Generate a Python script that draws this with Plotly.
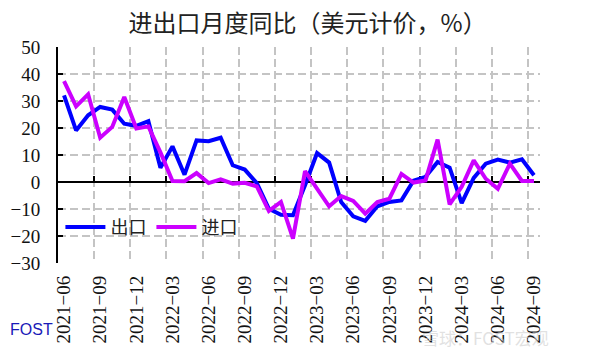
import plotly.graph_objects as go

months = ["2021-06", "2021-07", "2021-08", "2021-09", "2021-10", "2021-11", "2021-12",
          "2022-01", "2022-02", "2022-03", "2022-04", "2022-05", "2022-06", "2022-07",
          "2022-08", "2022-09", "2022-10", "2022-11", "2022-12",
          "2023-01", "2023-02", "2023-03", "2023-04", "2023-05", "2023-06", "2023-07",
          "2023-08", "2023-09", "2023-10", "2023-11", "2023-12",
          "2024-01", "2024-02", "2024-03", "2024-04", "2024-05", "2024-06", "2024-07",
          "2024-08", "2024-09"]

exports = [32.1, 19.1, 24.7, 27.8, 26.8, 21.6, 20.8,
           22.5, 5.3, 13.2, 2.7, 15.4, 15.1, 16.4,
           6.2, 4.6, -0.4, -9.9, -12.1,
           -12.3, -1.2, 10.7, 7.2, -7.4, -12.7, -14.4,
           -9.0, -7.4, -6.8, 0.5, 1.9,
           7.4, 5.3, -7.8, 1.5, 6.8, 8.3, 7.2,
           8.4, 2.5]

imports = [37.4, 28.0, 32.5, 16.4, 20.4, 31.5, 19.8,
           20.6, 11.0, 0.4, 0.3, 3.3, -0.4, 1.0,
           -0.6, -0.3, -1.6, -10.7, -7.4,
           -21.0, 4.0, -2.6, -9.0, -5.2, -7.0, -11.7,
           -7.4, -6.2, 3.0, -0.2, 0.6,
           15.7, -8.3, -1.8, 8.0, 1.2, -2.5, 6.8,
           0.4, 0.4]

series_names = ["出口", "进口"]
series_colors = ["#0000ff", "#cc00ff"]

idx = list(range(len(months)))
label_idx = idx[::3]
label_text = [months[i].replace("-", "\u2212") for i in label_idx]
boundaries = [i + 2.5 for i in label_idx[:-1]]

serif = "Liberation Serif, Times New Roman, serif"
cjk = "Noto Sans CJK SC"
grid_color = "#c4c4c4"
grid_dash = "8px,4px"

fig = go.Figure()
for name, vals, col in zip(series_names, [exports, imports], series_colors):
    fig.add_trace(go.Scatter(x=idx, y=vals, mode="lines", name=name,
                             line=dict(color=col, width=4)))
# helper trace so the zero-line tick axis is drawn
fig.add_trace(go.Scatter(x=idx, y=exports, xaxis="x2", mode="lines", opacity=0,
                         showlegend=False, hoverinfo="skip"))

fig.update_layout(
    width=583, height=347,
    margin=dict(l=50, r=51, t=39, b=92),
    paper_bgcolor="white", plot_bgcolor="white",
    title=dict(text="进出口月度同比（美元计价，%）", x=0.514, xanchor="center",
               y=0.955, yanchor="middle",
               font=dict(family=cjk, size=24, color="#222222")),
    showlegend=True,
    legend=dict(orientation="h", x=0.005, xanchor="left", y=0.165, yanchor="middle",
                bgcolor="rgba(0,0,0,0)", font=dict(family=cjk, size=18, color="#222222"),
                itemwidth=40, tracegroupgap=0),
    xaxis=dict(range=[-0.5, len(months) - 0.5], tickmode="array", tickvals=label_idx,
               ticktext=label_text, tickangle=-90, ticks="", showgrid=False,
               showline=False, zeroline=False, ticklabelstandoff=8, automargin=False,
               tickfont=dict(family=serif, size=19, color="#111111"),
               minor=dict(tickmode="array", tickvals=boundaries, showgrid=True,
                          gridcolor=grid_color, griddash=grid_dash, gridwidth=1.5,
                          ticks="")),
    xaxis2=dict(overlaying="x", anchor="free", position=0.375,
                range=[-0.5, len(months) - 0.5], tickmode="array", tickvals=boundaries,
                ticks="inside", ticklen=6, tickwidth=2, tickcolor="black",
                showticklabels=False, showgrid=False, showline=False, zeroline=False,
                layer="below traces"),
    yaxis=dict(range=[-30, 50], dtick=10, tick0=0, showgrid=True, gridcolor=grid_color,
               griddash=grid_dash, gridwidth=1.5, showline=True, linecolor="black",
               linewidth=2, ticks="inside", ticklen=5, tickwidth=2, tickcolor="black",
               zeroline=True, zerolinecolor="black", zerolinewidth=2,
               ticklabelstandoff=12, automargin=False,
               tickfont=dict(family=serif, size=19, color="#111111")),
)

fig.add_annotation(text="FOST", xref="paper", yref="paper", x=-0.104, y=-0.31,
                   xanchor="left", yanchor="middle", showarrow=False,
                   font=dict(family="Liberation Sans", size=16, color="#1a1ab8"))
fig.add_annotation(text="雪球：FOST宏观", xref="paper", yref="paper", x=0.75, y=-0.345,
                   xanchor="left", yanchor="middle", showarrow=False,
                   font=dict(family=cjk, size=17, color="rgba(200,200,200,0.55)"))

fig.write_html("out.html")
